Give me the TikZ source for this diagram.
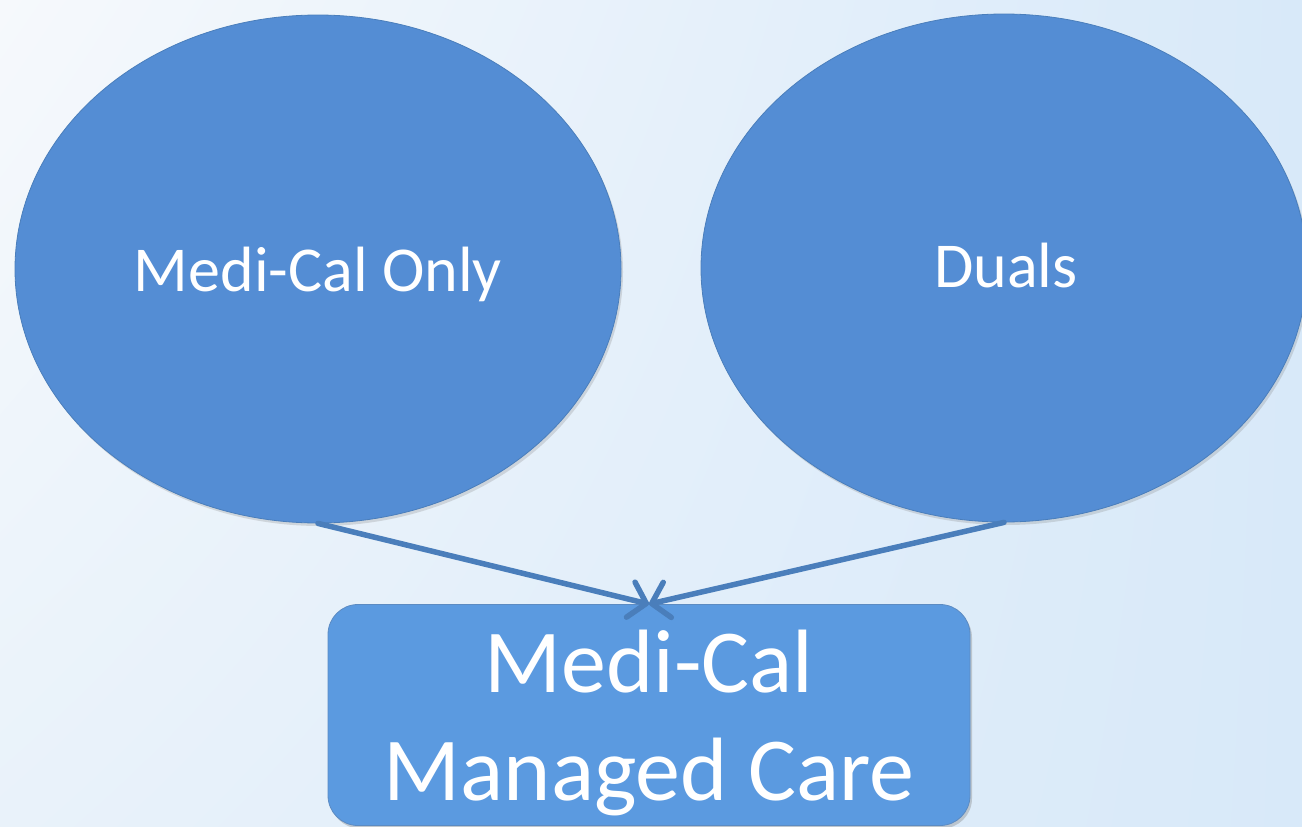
\documentclass[tikz,border=0pt]{standalone}
\usepackage{fontspec}
\setmainfont{Carlito}
\usetikzlibrary{shapes.geometric,arrows.meta,shadows,shadings}
\definecolor{ellblue}{HTML}{548DD4}
\definecolor{edgeblue}{HTML}{4A7EBB}
\definecolor{boxblue}{HTML}{5B9AE0}
\definecolor{bgA}{HTML}{F6F9FC}
\definecolor{bgB}{HTML}{D8E9F9}
\definecolor{bgC}{HTML}{E9F2FA}
\tikzset{
  circ/.style={ellipse, fill=ellblue, draw=edgeblue, line width=0.8pt, inner sep=0pt,
    minimum width=606pt, minimum height=508pt,
    drop shadow={opacity=0.25, shadow xshift=2pt, shadow yshift=-3pt}},
  smalltext/.style={text=white, font=\fontsize{64}{76}\selectfont, anchor=base, inner sep=0pt},
  bigbox/.style={rectangle, rounded corners=30pt, fill=boxblue, draw=edgeblue!90, line width=0.8pt,
    minimum width=642pt, minimum height=221pt, inner sep=0pt,
    drop shadow={opacity=0.35, shadow xshift=2pt, shadow yshift=-3pt}},
  bigtext/.style={text=white, font=\fontsize{90}{108}\selectfont, anchor=base, inner sep=0pt},
  conn/.style={draw=edgeblue, line width=5.5pt, line cap=round,
    -{Straight Barb[length=16pt,width=36pt,round]}}
}
\begin{document}
\begin{tikzpicture}[x=1pt,y=-1pt]
\shade[upper left=bgA, upper right=bgB, lower left=bgC, lower right=bgB] (0,0) rectangle (1302,827);
\useasboundingbox (0,0) rectangle (1302,827);
\node[circ] (a) at (318,269) {};
\node[circ] (b) at (1004,268) {};
\node[smalltext] (at) at (318,291) {Medi-Cal Only};
\node[smalltext] (bt) at (1006,287) {Duals};
\node[bigbox] (c) at (649,715) {};
\node[bigtext] (ct1) at (649,692) {Medi-Cal};
\node[bigtext] (ct2) at (649,800) {Managed Care};
\draw[conn] (a.south) -- (c.north);
\draw[conn] (b.south) -- (c.north);
\end{tikzpicture}
\end{document}
